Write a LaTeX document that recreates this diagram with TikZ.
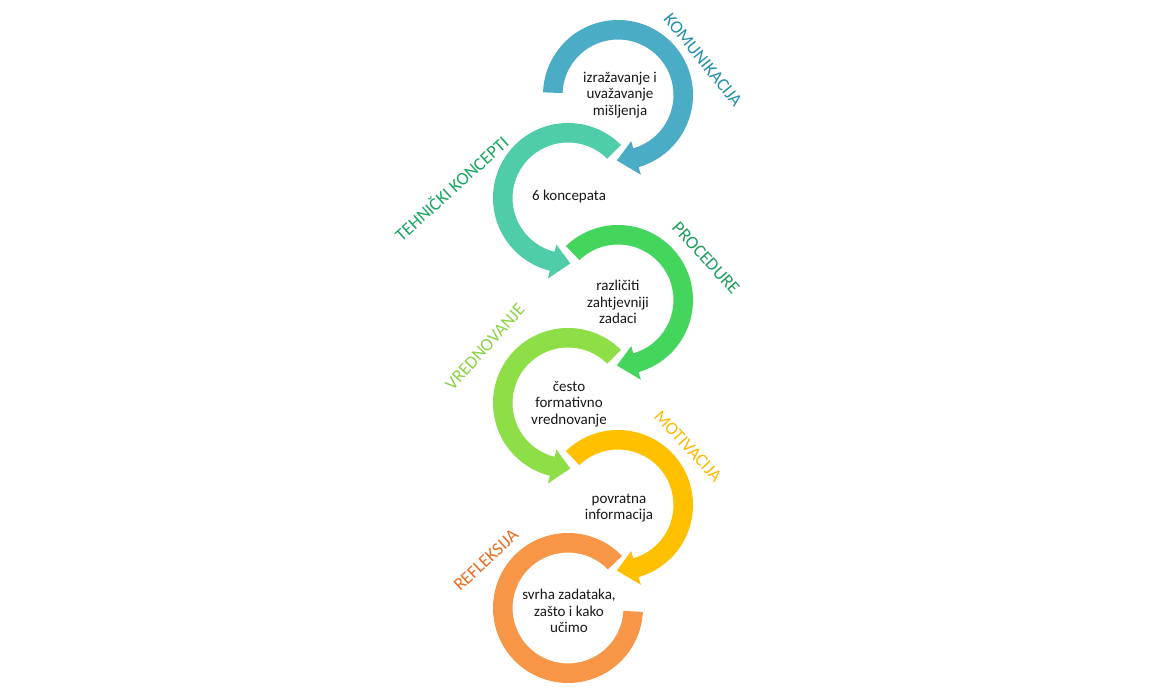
\documentclass[tikz,border=0pt]{standalone}
\usepackage{fontspec}
\setmainfont{Carlito}
\definecolor{cBlueC}{RGB}{75,172,198}
\definecolor{cTealC}{RGB}{78,205,168}
\definecolor{cGreenC}{RGB}{68,213,92}
\definecolor{cLimeC}{RGB}{142,222,72}
\definecolor{cYellowC}{RGB}{255,192,0}
\definecolor{cOrangeC}{RGB}{247,150,70}
\definecolor{lBlueC}{RGB}{36,142,172}
\definecolor{lTealC}{RGB}{24,165,96}
\definecolor{lGreenC}{RGB}{28,158,92}
\definecolor{lLimeC}{RGB}{140,210,70}
\definecolor{lYellowC}{RGB}{252,186,0}
\definecolor{lOrangeC}{RGB}{234,108,32}
\definecolor{bodyC}{RGB}{25,25,25}
% #1 centre name, #2 start angle, #3 body end angle, #4 tip angle, #5 colour
\newcommand\ringarrow[5]{%
  \fill[#5] ([shift={(#2:75)}]#1) arc[start angle=#2, end angle=#3, radius=75]
    -- ([shift={(#3:83)}]#1) -- ([shift={(#4:65.5)}]#1) -- ([shift={(#3:48)}]#1)
    -- ([shift={(#3:55.5)}]#1) arc[start angle=#3, end angle=#2, radius=55.5] -- cycle;}
\begin{document}
\begin{tikzpicture}[x=1pt,y=1pt,
  bodytext/.style={align=center, text=bodyC, font=\fontsize{15}{16.5}\selectfont, inner sep=0pt},
  sidelabel/.style={font=\fontsize{18}{20}\selectfont, inner sep=0pt}]
\useasboundingbox (0,0) rectangle (1170,700);
\fill[white] (0,0) rectangle (1170,700);
\coordinate (cBlue) at (618,605);
\coordinate (cTeal) at (568,502);
\coordinate (cGreen) at (618,400);
\coordinate (cLime) at (568,297);
\coordinate (cYellow) at (618,195);
\coordinate (cOrange) at (568,92);
% rings
\ringarrow{cBlue}{178}{-74}{-91}{cBlueC}
\ringarrow{cTeal}{45}{256}{272}{cTealC}
\ringarrow{cGreen}{134}{-74}{-91}{cGreenC}
\ringarrow{cLime}{45}{256}{272}{cLimeC}
\ringarrow{cYellow}{134}{-74}{-91}{cYellowC}
\fill[cOrangeC] ([shift={(44:75)}]cOrange) arc[start angle=44, end angle=357, radius=75]
   -- ([shift={(357:55.5)}]cOrange) arc[start angle=357, end angle=44, radius=55.5] -- cycle;
% body texts
\node[bodytext] (tBlue) at (620,605) {izražavanje i\\uvažavanje\\mišljenja};
\node[bodytext] (tTeal) at (569,503) {6 koncepata};
\node[bodytext] (tGreen) at (618,398) {različiti\\zahtjevniji\\zadaci};
\node[bodytext] (tLime) at (569,296) {često\\formativno\\vrednovanje};
\node[bodytext] (tYellow) at (619,192) {povratna\\informacija};
\node[bodytext] (tOrange) at (569,89) {svrha zadataka,\\zašto i kako\\učimo};
% side labels
\node[sidelabel, text=lBlueC, rotate=-51] (lKom) at (703,640) {KOMUNIKACIJA};
\node[sidelabel, text=lTealC, rotate=42] (lTeh) at (451,512) {TEHNIČKI KONCEPTI};
\node[sidelabel, text=lGreenC, rotate=-47.5] (lPro) at (706,442) {PROCEDURE};
\node[sidelabel, text=lLimeC, rotate=48] (lVre) at (485,353) {VREDNOVANJE};
\node[sidelabel, text=lYellowC, rotate=-47] (lMot) at (688,254) {MOTIVACIJA};
\node[sidelabel, text=lOrangeC, rotate=43] (lRef) at (486,140) {REFLEKSIJA};
\end{tikzpicture}
\end{document}
